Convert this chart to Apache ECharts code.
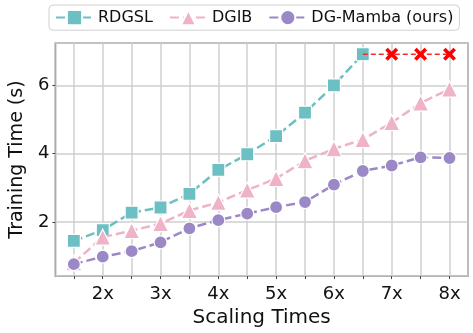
<!DOCTYPE html>
<html>
<head>
<meta charset="utf-8">
<script src="https://cdn.jsdelivr.net/npm/echarts@6/dist/echarts.min.js"></script>
<style>
  html, body { margin: 0; padding: 0; background: #fff; }
  #main { width: 473px; height: 333px; }
</style>
</head>
<body>
<div id="main"></div>
<script>
  // scaling factors (x) and training times (s)
  const scales = [1.5, 2, 2.5, 3, 3.5, 4, 4.5, 5, 5.5, 6, 6.5, 7, 7.5, 8];
  const rdgsl = [1.44, 1.76, 2.27, 2.42, 2.82, 3.52, 3.98, 4.51, 5.2, 6.0, 6.91];
  const dgib = [0.8, 1.55, 1.74, 1.95, 2.33, 2.57, 2.93, 3.27, 3.79, 4.14, 4.41, 4.91, 5.48, 5.89];
  const dgMamba = [0.76, 0.98, 1.14, 1.4, 1.81, 2.05, 2.24, 2.43, 2.58, 3.09, 3.49, 3.65, 3.89, 3.87];
  // out of memory points for RDGSL
  const oomScales = [6.5, 7, 7.5, 8];
  const oomLevel = 6.91;
  const yTicks = [2, 4, 6];

  const font = 'DejaVu Sans';
  const pair = (xs, ys) => ys.map((v, i) => [xs[i], v]);
  const crossPath = 'path://M2,0 L5,3 L8,0 L10,2 L7,5 L10,8 L8,10 L5,7 L2,10 L0,8 L3,5 L0,2 Z';

  let chart = echarts.init(document.getElementById('main'));

  chart.setOption({
    animation: false,
    legend: {
      data: ['RDGSL', 'DGIB', 'DG-Mamba (ours)'],
      left: 49,
      top: 5,
      padding: [4, 6],
      borderColor: '#d0d0d0',
      borderWidth: 1,
      borderRadius: 4,
      itemWidth: 37,
      itemHeight: 19,
      itemGap: 16,
      textStyle: { fontFamily: font, fontSize: 16, color: '#111' }
    },
    grid: {
      left: 55,
      right: 5,
      top: 43,
      bottom: 51,
      show: true,
      borderColor: '#3a3a3a',
      borderWidth: 1.2
    },
    xAxis: {
      type: 'value',
      min: 1.18,
      max: 8.32,
      splitNumber: 14,
      name: 'Scaling Times',
      nameLocation: 'middle',
      nameGap: 28,
      nameTextStyle: { fontFamily: font, fontSize: 20, color: '#111' },
      axisLine: { show: false },
      axisTick: { show: true, length: 3, lineStyle: { color: '#444' } },
      axisLabel: {
        margin: 9,
        fontFamily: font,
        fontSize: 18,
        color: '#111',
        showMinLabel: false,
        showMaxLabel: false,
        formatter: v => (Number.isInteger(v) && v >= 2 ? v + 'x' : '')
      },
      splitLine: { show: true, lineStyle: { color: '#cfcfcf', width: 1.5 } }
    },
    yAxis: {
      type: 'value',
      min: 0.41,
      max: 7.24,
      splitNumber: 3,
      name: 'Training Time (s)',
      nameLocation: 'middle',
      nameGap: 20,
      nameTextStyle: { fontFamily: font, fontSize: 19, color: '#111' },
      axisLine: { show: false },
      axisTick: { show: true, length: 3, lineStyle: { color: '#444' } },
      axisLabel: {
        margin: 6,
        fontFamily: font,
        fontSize: 18,
        color: '#111',
        showMinLabel: false,
        showMaxLabel: false,
        formatter: v => (yTicks.includes(v) ? String(v) : '')
      },
      splitLine: { show: true, lineStyle: { color: '#cfcfcf', width: 1.5 } }
    },
    series: [
      {
        name: 'RDGSL',
        type: 'line',
        data: pair(scales, rdgsl),
        symbol: 'rect',
        symbolSize: 13,
        lineStyle: { color: '#6cbfc3', width: 2.5, type: [9, 4] },
        itemStyle: { color: '#6cbfc3', borderColor: '#fff', borderWidth: 1.2 },
        z: 2
      },
      {
        name: 'OOM',
        type: 'line',
        data: oomScales.map((x, i) => ({
          value: [x, oomLevel],
          symbol: i === 0 ? 'none' : crossPath
        })),
        symbolSize: 13,
        lineStyle: { color: '#ff2a2a', width: 1.6, type: [5, 3] },
        itemStyle: { color: '#ff0000' },
        z: 5
      },
      {
        name: 'DGIB',
        type: 'line',
        data: pair(scales, dgib),
        symbol: 'triangle',
        symbolSize: 16,
        lineStyle: { color: '#efb3c8', width: 2.5, type: [9, 4] },
        itemStyle: { color: '#efb3c8', borderColor: '#fff', borderWidth: 1.2 },
        z: 3
      },
      {
        name: 'DG-Mamba (ours)',
        type: 'line',
        data: pair(scales, dgMamba),
        symbol: 'circle',
        symbolSize: 13,
        lineStyle: { color: '#9b88c6', width: 2.5, type: [9, 4] },
        itemStyle: { color: '#9b88c6', borderColor: '#fff', borderWidth: 1.2 },
        z: 4
      }
    ]
  });
</script>
</body>
</html>
